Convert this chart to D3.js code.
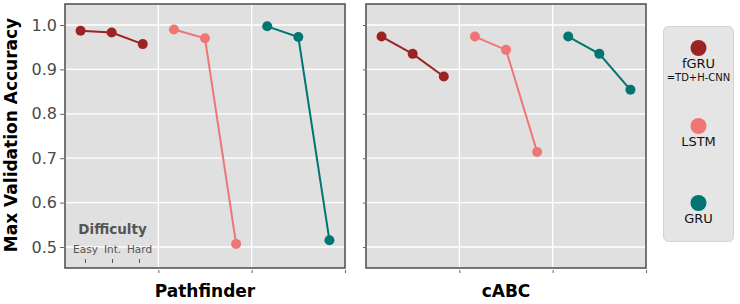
<!DOCTYPE html>
<html>
<head>
<meta charset="utf-8">
<script src="https://cdn.jsdelivr.net/npm/d3@7"></script>
<style>
  body { margin: 0; background: #fff; }
  svg { font-family: "DejaVu Sans", sans-serif; }
</style>
</head>
<body>
<div id="chart"></div>
<script>
// data
var datasets = ["Pathfinder", "cABC"];
var models = ["fGRU", "LSTM", "GRU"];
var difficulty = ["Easy", "Int.", "Hard"];
var yTicks = [0.5, 0.6, 0.7, 0.8, 0.9, 1.0];

var pathfinderAcc = {
    fGRU: [0.987, 0.983, 0.957],
    LSTM: [0.990, 0.970, 0.507],
    GRU: [0.997, 0.973, 0.515]
};
var cabcAcc = {
    fGRU: [0.974, 0.935, 0.884],
    LSTM: [0.974, 0.944, 0.714],
    GRU: [0.974, 0.935, 0.854]
};
var accuracy = [pathfinderAcc, cabcAcc];

var color = d3.scaleOrdinal()
    .domain(models)
    .range(["#9b2324", "#f07576", "#007571"]);

var W = 740,
    H = 304,
    panels = [{ x0: 65, x1: 345 }, { x0: 366, x1: 646 }],
    panelTop = 4,
    panelBottom = 268;

var svg = d3.select("#chart").append("svg")
    .attr("width", W)
    .attr("height", H);

var yScale = d3.scaleLinear()
    .domain([0.4527, 1.0473])
    .range([panelBottom, panelTop]);

panels.forEach(function(p, k) {
    var xScale = d3.scaleLinear()
        .domain([0, 9])
        .range([p.x0, p.x1]);
    var g = svg.append("g");

    g.append("rect")
        .attr("x", p.x0)
        .attr("y", panelTop)
        .attr("width", p.x1 - p.x0)
        .attr("height", panelBottom - panelTop)
        .style("fill", "#e0e0e0");

    // grid
    g.selectAll(".hgrid")
        .data(yTicks)
        .enter().append("line")
        .attr("x1", p.x0).attr("x2", p.x1)
        .attr("y1", function(d) { return yScale(d); })
        .attr("y2", function(d) { return yScale(d); })
        .style("stroke", "#fff")
        .style("stroke-width", 1.3);
    g.selectAll(".vgrid")
        .data([3, 6])
        .enter().append("line")
        .attr("x1", function(d) { return xScale(d); })
        .attr("x2", function(d) { return xScale(d); })
        .attr("y1", panelTop).attr("y2", panelBottom)
        .style("stroke", "#fff")
        .style("stroke-width", 1.3);

    // axes
    var yAxis = d3.axisLeft(yScale)
        .tickValues(yTicks)
        .tickSize(k == 0 ? 4 : 2)
        .tickPadding(3)
        .tickFormat(k == 0 ? d3.format(".1f") : "");
    var ya = g.append("g")
        .attr("transform", "translate(" + (p.x0 - 1) + ",0)")
        .call(yAxis);
    ya.select(".domain").remove();
    ya.selectAll("line").style("stroke", "#666");
    ya.selectAll("text")
        .style("font-family", "DejaVu Sans")
        .style("font-size", "16px")
        .style("fill", "#4a4a4a");

    var xAxis = d3.axisBottom(xScale)
        .tickValues([3, 6, 9])
        .tickSize(3)
        .tickFormat("");
    var xa = g.append("g")
        .attr("transform", "translate(0," + (panelBottom + 2) + ")")
        .call(xAxis);
    xa.select(".domain").remove();
    xa.selectAll("line").style("stroke", "#666");

    // series
    var line = d3.line()
        .x(function(d) { return xScale(d.x); })
        .y(function(d) { return yScale(d.y); });
    models.forEach(function(m, mi) {
        var pts = accuracy[k][m].map(function(v, i) {
            return { x: mi * 3 + i + 0.5, y: v };
        });
        g.append("path")
            .datum(pts)
            .attr("d", line)
            .style("fill", "none")
            .style("stroke", color(m))
            .style("stroke-width", 2);
        g.selectAll(".pt" + mi)
            .data(pts)
            .enter().append("circle")
            .attr("cx", function(d) { return xScale(d.x); })
            .attr("cy", function(d) { return yScale(d.y); })
            .attr("r", 5)
            .style("fill", color(m));
    });

    g.append("rect")
        .attr("x", p.x0)
        .attr("y", panelTop)
        .attr("width", p.x1 - p.x0)
        .attr("height", panelBottom - panelTop)
        .style("fill", "none")
        .style("stroke", "#555")
        .style("stroke-width", 1.6);

    g.append("text")
        .attr("x", (p.x0 + p.x1) / 2)
        .attr("y", 297)
        .attr("text-anchor", "middle")
        .style("font-size", "17px")
        .style("font-weight", "bold")
        .text(datasets[k]);

    // difficulty key in first panel
    if (k == 0) {
        var dScale = d3.scalePoint()
            .domain(difficulty)
            .range([85.5, 139.5]);
        g.append("text")
            .attr("x", 112.5)
            .attr("y", 234)
            .attr("text-anchor", "middle")
            .style("font-size", "13.5px")
            .style("font-weight", "bold")
            .style("fill", "#555")
            .text("Difficulty");
        g.selectAll(".dlab")
            .data(difficulty)
            .enter().append("text")
            .attr("x", function(d) { return dScale(d); })
            .attr("y", 253)
            .attr("text-anchor", "middle")
            .style("font-size", "10.5px")
            .style("fill", "#555")
            .text(function(d) { return d; });
        g.selectAll(".dtick")
            .data(difficulty)
            .enter().append("line")
            .attr("x1", function(d) { return dScale(d); })
            .attr("x2", function(d) { return dScale(d); })
            .attr("y1", 259).attr("y2", 263)
            .style("stroke", "#555")
            .style("stroke-width", 1);
    }
});

svg.append("text")
    .attr("transform", "translate(17," + 135 + ") rotate(-90)")
    .attr("text-anchor", "middle")
    .style("font-size", "17px")
    .style("font-weight", "bold")
    .text("Max Validation Accuracy");

// legend
var legend = svg.append("g");
legend.append("rect")
    .attr("x", 663.5).attr("y", 26.5)
    .attr("width", 70).attr("height", 215)
    .attr("rx", 5)
    .style("fill", "#e5e5e5")
    .style("stroke", "#d2d2d2");
var legY = [48, 126, 203];
models.forEach(function(m, i) {
    legend.append("circle")
        .attr("cx", 698.5).attr("cy", legY[i])
        .attr("r", 8)
        .style("fill", color(m));
    legend.append("text")
        .attr("x", 698.5).attr("y", legY[i] + 20)
        .attr("text-anchor", "middle")
        .style("font-size", "13px")
        .style("fill", "#111")
        .text(m);
});
legend.append("text")
    .attr("x", 698.5).attr("y", 81)
    .attr("text-anchor", "middle")
    .style("font-size", "10px")
    .style("fill", "#111")
    .text("=TD+H-CNN");
</script>
</body>
</html>
